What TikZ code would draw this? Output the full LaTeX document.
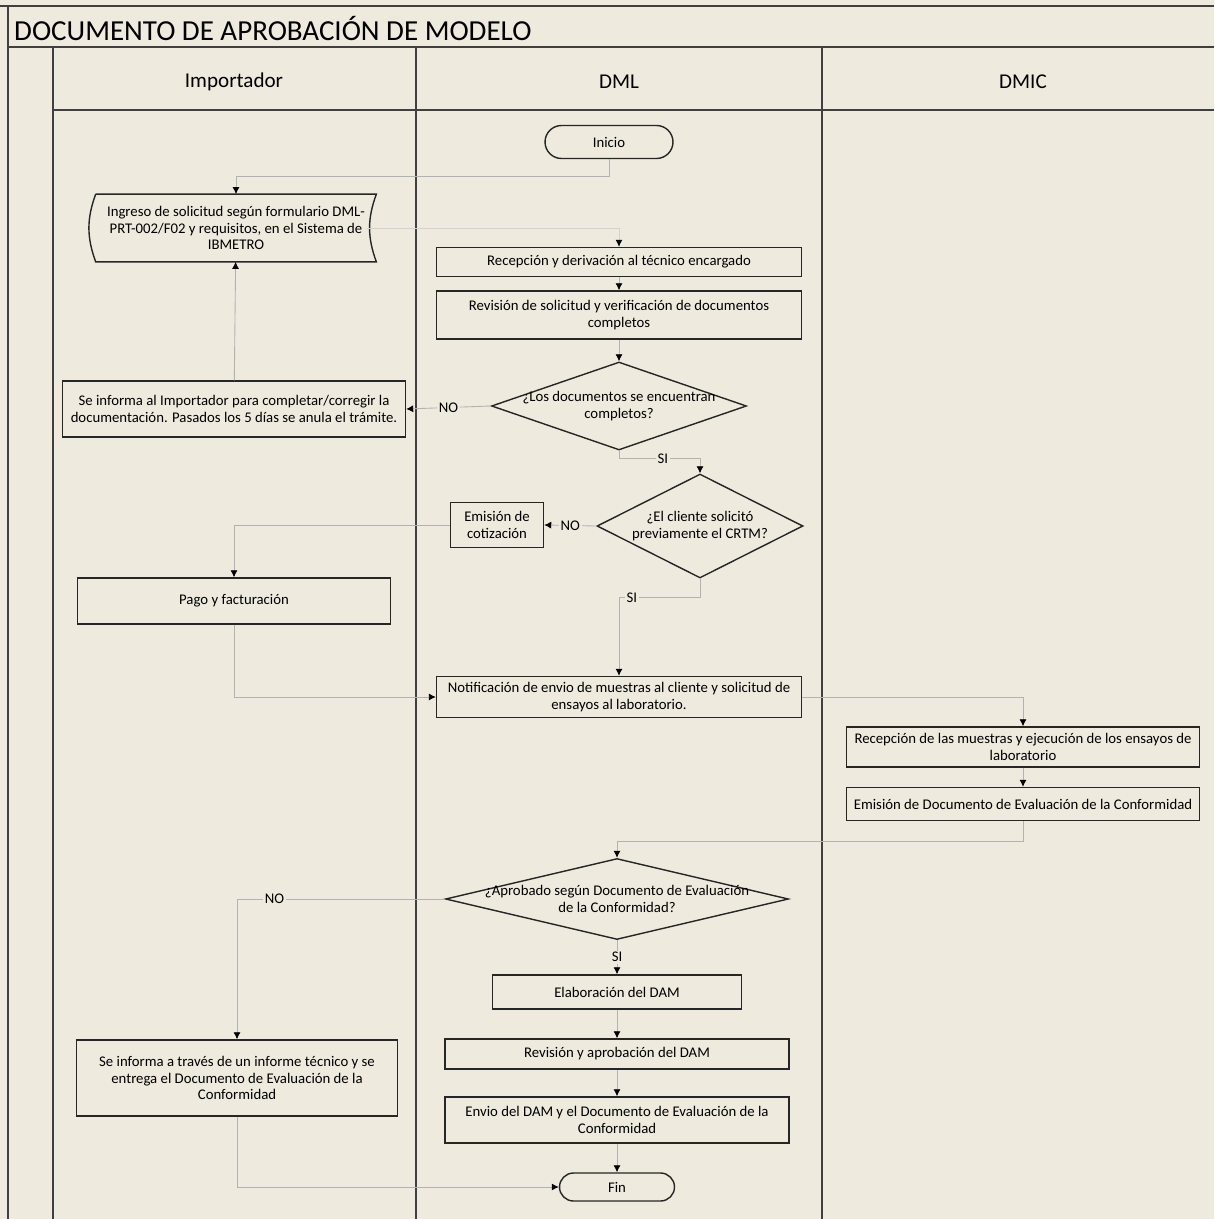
\documentclass[tikz,border=0pt]{standalone}
\usepackage{fontspec}
\setmainfont{Carlito}
\usetikzlibrary{shapes.geometric}
\usepgflibrary{arrows.meta}
\definecolor{papel}{RGB}{239,234,222}
\tikzset{
    caja/.style={draw=black!85,line width=0.8pt,align=center,inner sep=2pt,font=\fontsize{8.4}{9.6}\selectfont},
    terminal/.style={caja,rounded corners=0.3cm},
    decision/.style={draw=black!85,line width=0.8pt,diamond,inner sep=0pt},
    txt/.style={align=center,font=\fontsize{8.4}{9.6}\selectfont},
    etiq/.style={fill=papel,inner sep=1pt,font=\fontsize{8.4}{9.6}\selectfont},
    conn/.style={draw=gray!60,line width=0.5pt,-{Latex[length=4pt,width=4pt,color=black]}},
    carril/.style={draw=black!75,line width=0.6pt}
}
\begin{document}
\begin{tikzpicture}[x=0.02cm,y=-0.02cm]
        %fondo
            \fill[papel] (0,0) rectangle (1214,1219);
            \useasboundingbox (0,0) rectangle (1214,1219);
        %marco, carriles
            \draw [carril] (0,6) -- (1214,6) (8,6) -- (8,1219) (8,47) -- (1214,47);
            \draw [carril] (53,47) -- (53,1219) (416,47) -- (416,1219) (822,47) -- (822,1219) (53,110) -- (1214,110);
            \node[anchor=west,font=\fontsize{16.5}{20}\selectfont] (titulo) at (8,29) {DOCUMENTO DE APROBACIÓN DE MODELO};
            \node[font=\fontsize{12}{14}\selectfont] (imp) at (234,82) {Importador};
            \node[font=\fontsize{12}{14}\selectfont] (dml) at (619,82) {DML};
            \node[font=\fontsize{12}{14}\selectfont] (dmic) at (1023,82) {DMIC};
        %Importador
            \node[txt,minimum width=5.6cm,minimum height=1.34cm] (ing) at (236,228) {Ingreso de solicitud según formulario DML-\\PRT-002/F02 y requisitos, en el Sistema de\\IBMETRO};
            \draw [draw=black!85,line width=0.8pt] (ing.north west) -- (ing.north east) to[bend right=20] (ing.south east) -- (ing.south west) to[bend left=20] (ing.north west);
            \node[caja,minimum width=6.86cm,minimum height=1.12cm] (inf1) at (234,409) {Se informa al Importador para completar/corregir la\\documentación. Pasados los 5 días se anula el trámite.};
            \node[caja,minimum width=6.26cm,minimum height=0.92cm] (pago) at (234,601) {Pago y facturación};
            \node[caja,minimum width=6.42cm,minimum height=1.52cm] (inf2) at (237,1078) {Se informa a través de un informe técnico y se\\entrega el Documento de Evaluación de la\\Conformidad};
        %DML
            \node[terminal,minimum width=2.56cm,minimum height=0.66cm,rounded corners=0.33cm] (ini) at (609,142) {Inicio};
            \node[caja,minimum width=7.3cm,minimum height=0.58cm] (rec) at (619,262) {Recepción y derivación al técnico encargado};
            \node[caja,minimum width=7.3cm,minimum height=0.96cm] (rev) at (619,315) {Revisión de solicitud y verificación de documentos\\completos};
            \node[decision,minimum width=5.1cm,minimum height=1.76cm,label={[txt]center:{¿Los documentos se encuentran\\completos?}}] (dec1) at (619,406) {};
            \node[decision,minimum width=4.12cm,minimum height=2.08cm,label={[txt]center:{¿El cliente solicitó\\previamente el CRTM?}}] (dec2) at (700,526) {};
            \node[caja,minimum width=1.86cm,minimum height=0.9cm] (emi) at (497,525) {Emisión de\\cotización};
            \node[caja,minimum width=7.3cm,minimum height=0.82cm] (notif) at (619,697) {Notificación de envio de muestras al cliente y solicitud de\\ensayos al laboratorio.};
            \node[decision,minimum width=6.86cm,minimum height=1.62cm,label={[txt]center:{¿Aprobado según Documento de Evaluación\\de la Conformidad?}}] (dec3) at (617,899) {};
            \node[caja,minimum width=4.98cm,minimum height=0.68cm] (elab) at (617,992) {Elaboración del DAM};
            \node[caja,minimum width=6.88cm,minimum height=0.6cm] (revd) at (617,1054) {Revisión y aprobación del DAM};
            \node[caja,minimum width=6.88cm,minimum height=0.92cm] (envio) at (617,1120) {Envio del DAM y el Documento de Evaluación de la\\Conformidad};
            \node[terminal,minimum width=2.3cm,minimum height=0.56cm,rounded corners=0.28cm] (fin) at (617,1187) {Fin};
        %DMIC
            \node[caja,minimum width=7.06cm,minimum height=0.8cm] (recm) at (1023,747) {Recepción de las muestras y ejecución de los ensayos de\\laboratorio};
            \node[caja,minimum width=7.06cm,minimum height=0.66cm] (emid) at (1023,804) {Emisión de Documento de Evaluación de la Conformidad};
        %flechas
            \draw [conn] (ini.south) -- ++(0,17) -| (ing.north);
            \draw [conn,draw=gray!35] ([xshift=-0.18cm]ing.east) -| (rec.north);
            \draw [conn] (rec) -- (rev);
            \draw [conn] (rev) -- (dec1);
            \draw [conn] (dec1.west) -- node[etiq] (no1) {NO} (inf1.east);
            \draw [conn] (inf1) -- (ing);
            \draw [conn] (dec1.south) -- ++(0,8) -| node[etiq,pos=0.27] (si1) {SI} (dec2.north);
            \draw [conn] (dec2.west) -- node[etiq] (no2) {NO} (emi.east);
            \draw [conn] (emi.west) -| (pago.north);
            \draw [conn] (pago.south) |- (notif.west);
            \draw [conn] (dec2.south) -- ++(0,19) -| node[etiq,pos=0.42] (si2) {SI} (notif.north);
            \draw [conn] (notif.east) -| (recm.north);
            \draw [conn] (recm) -- (emid);
            \draw [conn] (emid.south) -- ++(0,20) -| (dec3.north);
            \draw [conn] (dec3.west) -| node[etiq,pos=0.41] (no3) {NO} (inf2.north);
            \draw [conn] (dec3) -- node[etiq] (si3) {SI} (elab);
            \draw [conn] (elab) -- (revd);
            \draw [conn] (revd) -- (envio);
            \draw [conn] (envio) -- (fin);
            \draw [conn] (inf2.south) |- (fin.west);
\end{tikzpicture}
\end{document}
